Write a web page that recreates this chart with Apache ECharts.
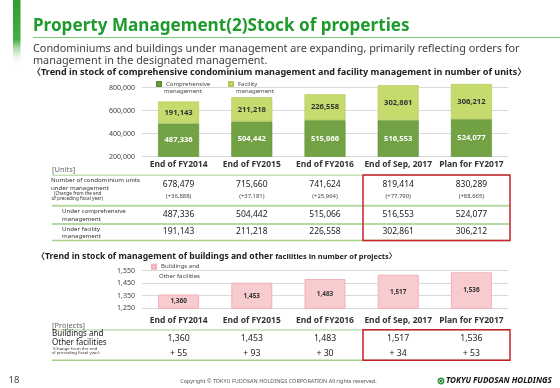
<!DOCTYPE html>
<html><head><meta charset="utf-8">
<script src="https://cdn.jsdelivr.net/npm/echarts@6/dist/echarts.min.js"></script>
<style>html,body{margin:0;padding:0;background:#fff}#c{width:560px;height:388px}</style>
</head><body><div id="c"></div>
<script>
// ---- data ----
const categories = ['End of FY2014', 'End of FY2015', 'End of FY2016', 'End of Sep, 2017', 'Plan for FY2017'];
const comprehensive = [487336, 504442, 515066, 516553, 524077];
const facility = [191143, 211218, 226558, 302861, 306212];
const totalUnits = [678479, 715660, 741624, 819414, 830289];
const unitChange = ['(+36,888)', '(+37,181)', '(+25,964)', '(+77,790)', '(+88,665)'];
const buildings = [1360, 1453, 1483, 1517, 1536];
const buildingChange = ['+ 55', '+ 93', '+ 30', '+ 34', '+ 53'];
const unitTicks = [200000, 400000, 600000, 800000];
const projectTicks = [1250, 1350, 1450, 1550];

const FAM = '"Noto Sans", "Noto Sans CJK JP", sans-serif';
const mctx = document.createElement('canvas').getContext('2d');
function measure(text, weight, size, style) {
  mctx.font = (style || 'normal') + ' ' + (weight || 'normal') + ' ' + size + 'px ' + FAM;
  return mctx.measureText(text).width;
}
function fit(text, weight, width, style) { return 100 * width / measure(text, weight, 100, style); }
const fmt = v => v.toLocaleString('en-US');

function T(text, x, y, size, o) {
  o = o || {};
  const a = o.align || 'left';
  return { type: 'text', silent: true, z: 10, style: {
    text: text, x: x, y: y, fill: o.color || '#333', fontSize: size,
    fontWeight: o.weight || 'normal', fontStyle: o.style || 'normal', fontFamily: FAM,
    align: a, verticalAlign: 'middle', textAlign: a, textVerticalAlign: 'middle' } };
}
function L(x1, y1, x2, y2, color, w) {
  return { type: 'line', silent: true, z: 5, shape: { x1, y1, x2, y2 }, style: { stroke: color, lineWidth: w } };
}
function R(x, y, w, h, style) {
  return { type: 'rect', silent: true, z: 6, shape: { x, y, width: w, height: h }, style: style };
}

const chart = echarts.init(document.getElementById('c'), null, { renderer: 'canvas' });

const catFs = fit('End of FY2014', 'bold', 58);
const axisLabelBase = { fontFamily: FAM, color: '#404040' };

const statics = [];
// left accent bar
statics.push(R(13, 0, 7.5, 66, { fill: new echarts.graphic.LinearGradient(0, 0, 0, 1, [
  { offset: 0, color: '#2e9f2e' }, { offset: 0.6, color: '#45ad45' }, { offset: 1, color: 'rgba(255,255,255,0)' }]) }));
// title
const titleTxt = 'Property Management(2)Stock of properties';
statics.push(T(titleTxt, 33, 26.3, fit(titleTxt, 'bold', 377), { weight: 'bold', color: '#1f9a2c' }));
statics.push(L(33, 37.5, 560, 37.5, '#7cc47c', 1));
const sub1 = 'Condominiums and buildings under management are expanding, primarily reflecting orders for';
const subFs = fit(sub1, 'normal', 487);
statics.push(T(sub1, 33, 49.3, subFs, { color: '#404040' }));
statics.push(T('management in the designated management.', 33, 61, subFs, { color: '#404040' }));
const h1 = '\u3008Trend in stock of comprehensive condominium management and facility management in number of units\u3009';
statics.push(T(h1, 32, 72.7, fit(h1, 'bold', 495), { weight: 'bold', color: '#222' }));

// legend second lines
statics.push(T('management', 164, 91.6, 6, { color: '#444' }));
statics.push(T('management', 236, 91.6, 6, { color: '#444' }));
statics.push(T('Other facilities', 159, 276.3, 6, { color: '#444' }));

// table 1 labels & lines
statics.push(T('[Units]', 52, 170, 7.5, { color: '#666' }));
const lblFs = fit('Number of condominium units', 'normal', 89);
statics.push(T('Number of condominium units', 51, 180.5, lblFs, { color: '#333' }));
statics.push(T('under management', 51, 187.8, lblFs, { color: '#333' }));
statics.push(T('(Change from the end', 54, 194, 4.6, { color: '#333' }));
statics.push(T('of preceding fiscal year)', 51.5, 198.6, 4.6, { color: '#333' }));
statics.push(T('Under comprehensive', 62, 211.7, lblFs, { color: '#333' }));
statics.push(T('management', 62, 219.3, lblFs, { color: '#333' }));
statics.push(T('Under facility', 62, 229, lblFs, { color: '#333' }));
statics.push(T('management', 62, 235.8, lblFs, { color: '#333' }));
statics.push(L(52, 175.2, 510, 175.2, '#a8d08d', 1));
statics.push(L(52, 205.7, 510, 205.7, '#b6d9a0', 2));
statics.push(L(52, 224, 510, 224, '#b6d9a0', 2));
statics.push(L(52, 240.5, 510, 240.5, '#a8d08d', 1.5));
statics.push(R(363, 175, 147, 65.5, { fill: 'none', stroke: '#c8202b', lineWidth: 1.5 }));

// section 2 heading
const h2a = '\u3008Trend in stock of management of buildings and other ';
const h2b = 'facilities in number of projects\u3009';
const h2aFs = 8.6;
statics.push(T(h2a, 36.5, 256.7, h2aFs, { weight: 'bold', color: '#222' }));
const h2bX = 36.5 + measure(h2a, 'bold', h2aFs);
statics.push(T(h2b, h2bX, 257.2, fit(h2b, 'bold', 396.5 - h2bX), { weight: 'bold', color: '#222' }));

// table 2
statics.push(T('[Projects]', 52, 325.5, 7.5, { color: '#666' }));
statics.push(T('Buildings and', 52, 334.2, 8, { color: '#222' }));
statics.push(T('Other facilities', 52, 342.6, 8, { color: '#222' }));
statics.push(T('(Change from the end', 53, 349, 4.3, { color: '#333' }));
statics.push(T('of preceding fiscal year)', 51.5, 352.8, 4.3, { color: '#333' }));
statics.push(L(52, 330, 510, 330, '#a8d08d', 1.2));
statics.push(L(52, 360.3, 510, 360.3, '#a8d08d', 1.5));
statics.push(R(363, 329.7, 147, 30.5, { fill: 'none', stroke: '#c8202b', lineWidth: 1.5 }));

// footer
statics.push(T('18', 8.5, 380.3, 9.5, { color: '#444' }));
const copy = 'Copyright \u00a9 TOKYU FUDOSAN HOLDINGS CORPORATION All rights reserved.';
statics.push(T(copy, 278.5, 381, fit(copy, 'normal', 197), { color: '#555', align: 'center' }));
statics.push({ type: 'circle', silent: true, z: 6, shape: { cx: 441, cy: 381, r: 2.6 }, style: { fill: '#fff', stroke: '#2a9a3a', lineWidth: 1.6 } });
statics.push({ type: 'circle', silent: true, z: 7, shape: { cx: 441, cy: 381, r: 0.9 }, style: { fill: '#222' } });
const logo = 'TOKYU FUDOSAN HOLDINGS';
statics.push(T(logo, 446, 381.2, fit(logo, 'bold', 106, 'italic'), { weight: 'bold', style: 'italic', color: '#111' }));

const valueAxisCommon = { axisLine: { show: false }, axisTick: { show: false } };
const legendCommon = { itemWidth: 4, itemHeight: 4, icon: 'rect', selectedMode: false, padding: 0, textStyle: { fontSize: 6, color: '#444', fontFamily: FAM } };

const option = {
  animation: false,
  backgroundColor: '#fff',
  textStyle: { fontFamily: FAM },
  grid: [
    { left: 142, width: 366, top: 87.5, height: 69 },
    { left: 142, width: 366, top: 270.5, height: 37.8 }
  ],
  legend: [
    Object.assign({ left: 156, top: 81, data: ['Comprehensive management'], formatter: () => 'Comprehensive' }, legendCommon),
    Object.assign({ left: 228, top: 81, data: ['Facility management'], formatter: () => 'Facility' }, legendCommon),
    Object.assign({ left: 151, top: 263.7, data: ['Buildings and Other facilities'], formatter: () => 'Buildings and' }, legendCommon)
  ],
  xAxis: [
    { type: 'category', gridIndex: 0, data: categories, axisLine: { show: false }, axisTick: { show: false },
      axisLabel: { interval: 0, fontFamily: FAM, fontWeight: 'bold', fontSize: catFs, color: '#333', margin: 3.5 } },
    { type: 'category', gridIndex: 1, data: categories, axisLine: { show: false }, axisTick: { show: false },
      axisLabel: { interval: 0, fontFamily: FAM, fontWeight: 'bold', fontSize: catFs, color: '#333', margin: 8 } }
  ],
  yAxis: [
    Object.assign({ type: 'value', gridIndex: 0, min: unitTicks[0], max: unitTicks[unitTicks.length - 1], interval: 200000,
      axisLabel: Object.assign({ fontSize: 7, margin: 7, formatter: v => unitTicks.includes(v) ? fmt(v) : '' }, axisLabelBase),
      splitLine: { lineStyle: { color: '#d9d9d9', width: 1 } } }, valueAxisCommon),
    Object.assign({ type: 'value', gridIndex: 1, min: projectTicks[0], max: projectTicks[projectTicks.length - 1], interval: 50,
      axisLabel: Object.assign({ fontSize: 7, margin: 7, formatter: v => projectTicks.includes(v) ? fmt(v) : '' }, axisLabelBase),
      splitLine: { lineStyle: { color: ['#d9d9d9', 'rgba(0,0,0,0)'], width: 1 } } }, valueAxisCommon)
  ],
  series: [
    { type: 'bar', name: 'Comprehensive management', xAxisIndex: 0, yAxisIndex: 0, stack: 'units', data: comprehensive,
      barWidth: 41, clip: true, itemStyle: { color: '#72a244', borderColor: '#5f9034', borderWidth: 0.6 },
      label: { show: true, position: 'inside', color: '#fff', fontWeight: 'bold', fontSize: 7.6, fontFamily: FAM, formatter: p => fmt(p.value) } },
    { type: 'bar', name: 'Facility management', xAxisIndex: 0, yAxisIndex: 0, stack: 'units', data: facility,
      barWidth: 41, clip: false, itemStyle: { color: '#c6db6e', borderColor: '#b2c95a', borderWidth: 0.6 },
      label: { show: true, position: 'inside', color: '#333', fontWeight: 'bold', fontSize: 7.6, fontFamily: FAM, formatter: p => fmt(p.value) } },
    { type: 'bar', name: 'Buildings and Other facilities', xAxisIndex: 1, yAxisIndex: 1, data: buildings,
      barWidth: 41, clip: true, itemStyle: { color: '#f8cbcf', borderColor: '#f1b0b8', borderWidth: 1 },
      label: { show: true, position: 'inside', color: '#333', fontWeight: 'bold', fontSize: 6.4, fontFamily: FAM, formatter: p => fmt(p.value) } }
  ],
  graphic: statics
};
chart.setOption(option);

// table values positioned through the category axis scale
const xs = categories.map((c, i) => chart.convertToPixel({ xAxisIndex: 0 }, i));
const tbl = [];
xs.forEach((x, i) => {
  tbl.push(T(fmt(totalUnits[i]), x, 185, 8.5, { align: 'center', color: '#222' }));
  tbl.push(T(unitChange[i], x, 196.7, 5.9, { align: 'center', color: '#444' }));
  tbl.push(T(fmt(comprehensive[i]), x, 215, 8.5, { align: 'center', color: '#222' }));
  tbl.push(T(fmt(facility[i]), x, 231.2, 8.5, { align: 'center', color: '#222' }));
  tbl.push(T(fmt(buildings[i]), x, 338.5, 8.7, { align: 'center', color: '#222' }));
  tbl.push(T(buildingChange[i], x, 353.5, 8.7, { align: 'center', color: '#222' }));
});
chart.setOption({ graphic: statics.concat(tbl) });
</script></body></html>
